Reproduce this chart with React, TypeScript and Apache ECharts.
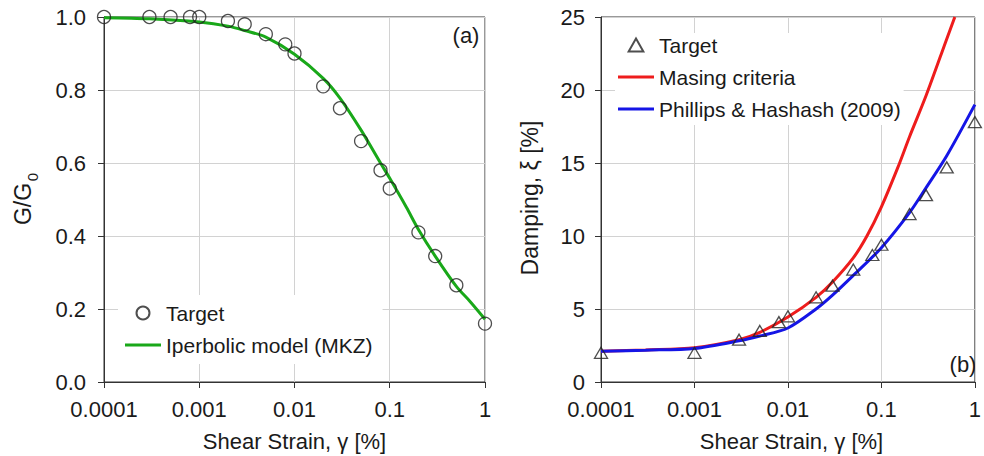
import React, { useEffect, useRef } from "react";
import * as echarts from "echarts";

// ---- Data ----
const xTickLabels = ["0.0001", "0.001", "0.01", "0.1", "1"];

// (a) modulus reduction
const ggTargetStrain = [0.0001, 0.0003, 0.0005, 0.0008, 0.001, 0.002, 0.003, 0.005, 0.008, 0.01, 0.02, 0.03, 0.05, 0.08, 0.1, 0.2, 0.3, 0.5, 1];
const ggTargetValue = [1.0, 1.0, 1.0, 1.0, 1.0, 0.989, 0.98, 0.953, 0.925, 0.9, 0.81, 0.75, 0.66, 0.58, 0.53, 0.41, 0.345, 0.265, 0.16];
const mkzStrain = [0.0001, 0.0003, 0.001, 0.002, 0.003, 0.005, 0.01, 0.02, 0.03, 0.05, 0.08, 0.1, 0.15, 0.2, 0.3, 0.5, 0.7, 1];
const mkzValue = [0.998, 0.995, 0.986, 0.975, 0.963, 0.945, 0.898, 0.832, 0.778, 0.69, 0.6, 0.558, 0.478, 0.418, 0.345, 0.262, 0.22, 0.172];

// (b) damping
const dampTargetStrain = [0.0001, 0.001, 0.003, 0.005, 0.008, 0.01, 0.02, 0.03, 0.05, 0.08, 0.1, 0.2, 0.3, 0.5, 1];
const dampTargetValue = [2.0, 2.0, 2.9, 3.5, 4.1, 4.5, 5.8, 6.6, 7.7, 8.7, 9.4, 11.5, 12.8, 14.7, 17.8];
const masingStrain = [0.0001, 0.0003, 0.001, 0.003, 0.005, 0.01, 0.02, 0.03, 0.05, 0.07, 0.1, 0.15, 0.2, 0.3, 0.5, 0.61];
const masingValue = [2.1, 2.2, 2.35, 2.9, 3.4, 4.45, 5.8, 6.85, 8.5, 10.0, 12.0, 14.7, 16.8, 19.6, 23.5, 25.0];
const phStrain = [0.0001, 0.0003, 0.001, 0.003, 0.005, 0.01, 0.02, 0.03, 0.05, 0.1, 0.2, 0.3, 0.5, 1];
const phValue = [2.1, 2.18, 2.3, 2.82, 3.15, 3.7, 5.0, 5.95, 7.3, 9.2, 11.6, 13.3, 15.5, 19.0];

const FONT = "'Liberation Sans', Arial, Helvetica, sans-serif";
const TXT = "#1a1a1a";

const LINE_ICON = "path://M0,0H36V3H0Z";
const TRI_ICON = "path://M6.5,0L13,11.5L0,11.5Z";

const pairs = (xs: number[], ys: number[]) => xs.map((x, i) => [x, ys[i]]);

export default function App() {
  const ref = useRef<HTMLDivElement>(null);

  useEffect(() => {
    if (!ref.current) return;
    const chart = echarts.init(ref.current, undefined, { renderer: "svg" });

    const xAxisFor = (gridIndex: number) => ({
      type: "log",
      logBase: 10,
      gridIndex,
      min: 0.0001,
      max: 1,
      splitNumber: 4,
      axisLine: { show: true, lineStyle: { color: "#333", width: 1 } },
      axisTick: { show: true, length: 6, inside: false, lineStyle: { color: "#333" } },
      minorTick: { show: false },
      splitLine: { show: true, lineStyle: { color: "#d2d2d2", width: 1 } },
      axisLabel: {
        fontSize: 22,
        color: TXT,
        fontFamily: FONT,
        margin: 16,
        formatter: (v: number) => {
          const i = Math.round(Math.log10(v)) + 4;
          return xTickLabels[i] ?? "";
        },
      },
    });

    const yAxisFor = (gridIndex: number, max: number, interval: number, margin: number, dec: number) => ({
      type: "value",
      gridIndex,
      min: 0,
      max,
      interval,
      axisLine: { show: true, lineStyle: { color: "#333", width: 1 } },
      axisTick: { show: true, length: 6, inside: false, lineStyle: { color: "#333" } },
      splitLine: { show: true, lineStyle: { color: "#d2d2d2", width: 1 } },
      axisLabel: {
        fontSize: 22,
        color: TXT,
        fontFamily: FONT,
        margin,
        formatter: (v: number) => v.toFixed(dec),
      },
    });

    const openMarker = {
      color: "rgba(255,255,255,0)",
      borderColor: "#222",
      borderWidth: 1.3,
    };

    const option: any = {
      animation: false,
      textStyle: { fontFamily: FONT },
      grid: [
        { left: 104, top: 17, width: 381, height: 365, show: true, borderColor: "#333", borderWidth: 1, backgroundColor: "transparent" },
        { left: 601, top: 17, width: 381, height: 365, show: true, borderColor: "#333", borderWidth: 1, backgroundColor: "transparent" },
      ],
      xAxis: [xAxisFor(0), xAxisFor(1)],
      yAxis: [yAxisFor(0, 1, 0.2, 18, 1), yAxisFor(1, 25, 5, 16, 0)],
      legend: [
        {
          orient: "vertical",
          left: 118,
          top: 295,
          padding: [7, 10, 8, 7],
          backgroundColor: "#ffffff",
          itemWidth: 36,
          itemHeight: 13,
          itemGap: 10,
          selectedMode: false,
          textStyle: { fontSize: 21, color: TXT, fontFamily: FONT, lineHeight: 22 },
          data: [
            { name: "Target", icon: "circle" },
            { name: "Iperbolic model (MKZ)", icon: LINE_ICON },
          ],
        },
        {
          orient: "vertical",
          left: 615,
          top: 33,
          padding: [1, 3, 5, 3],
          backgroundColor: "#ffffff",
          itemWidth: 36,
          itemHeight: 13,
          itemGap: 10,
          selectedMode: false,
          textStyle: { fontSize: 21, color: TXT, fontFamily: FONT, lineHeight: 22 },
          formatter: (name: string) => (name === "Target (b)" ? "Target" : name),
          data: [
            { name: "Target (b)", icon: TRI_ICON },
            { name: "Masing criteria", icon: LINE_ICON },
            { name: "Phillips & Hashash (2009)", icon: LINE_ICON },
          ],
        },
      ],
      series: [
        {
          name: "Iperbolic model (MKZ)",
          type: "line",
          xAxisIndex: 0,
          yAxisIndex: 0,
          data: pairs(mkzStrain, mkzValue),
          smooth: 0.3,
          symbol: "none",
          lineStyle: { color: "#19a819", width: 3 },
          itemStyle: { color: "#19a819" },
          z: 2,
        },
        {
          name: "Target",
          type: "scatter",
          xAxisIndex: 0,
          yAxisIndex: 0,
          data: pairs(ggTargetStrain, ggTargetValue),
          symbol: "circle",
          symbolSize: 13,
          itemStyle: openMarker,
          z: 3,
        },
        {
          name: "Masing criteria",
          type: "line",
          xAxisIndex: 1,
          yAxisIndex: 1,
          data: pairs(masingStrain, masingValue),
          smooth: 0.3,
          symbol: "none",
          lineStyle: { color: "#ee1c1c", width: 3 },
          itemStyle: { color: "#ee1c1c" },
          z: 2,
        },
        {
          name: "Phillips & Hashash (2009)",
          type: "line",
          xAxisIndex: 1,
          yAxisIndex: 1,
          data: pairs(phStrain, phValue),
          smooth: 0.3,
          symbol: "none",
          lineStyle: { color: "#1515e6", width: 3 },
          itemStyle: { color: "#1515e6" },
          z: 2,
        },
        {
          name: "Target (b)",
          type: "scatter",
          xAxisIndex: 1,
          yAxisIndex: 1,
          data: pairs(dampTargetStrain, dampTargetValue),
          symbol: "triangle",
          symbolSize: [13, 11],
          itemStyle: openMarker,
          z: 3,
        },
      ],
      graphic: [
        {
          type: "text",
          x: 23,
          y: 204,
          rotation: Math.PI / 2,
          style: { text: "G/G", fontSize: 23, fontFamily: FONT, fill: TXT, align: "center", verticalAlign: "middle" },
        },
        {
          type: "text",
          x: 32,
          y: 177,
          rotation: Math.PI / 2,
          style: { text: "0", fontSize: 15, fontFamily: FONT, fill: TXT, align: "center", verticalAlign: "middle" },
        },
        {
          type: "text",
          x: 530,
          y: 198,
          rotation: Math.PI / 2,
          style: { text: "Damping, ξ [%]", fontSize: 23, fontFamily: FONT, fill: TXT, align: "center", verticalAlign: "middle" },
        },
        {
          type: "text",
          x: 294.5,
          y: 441,
          style: { text: "Shear Strain, γ [%]", fontSize: 22, fontFamily: FONT, fill: TXT, align: "center", verticalAlign: "middle" },
        },
        {
          type: "text",
          x: 791.5,
          y: 441,
          style: { text: "Shear Strain, γ [%]", fontSize: 22, fontFamily: FONT, fill: TXT, align: "center", verticalAlign: "middle" },
        },
        {
          type: "text",
          x: 466,
          y: 35,
          style: { text: "(a)", fontSize: 22, fontFamily: FONT, fill: TXT, align: "center", verticalAlign: "middle" },
        },
        {
          type: "text",
          x: 963,
          y: 364,
          style: { text: "(b)", fontSize: 22, fontFamily: FONT, fill: TXT, align: "center", verticalAlign: "middle" },
        },
      ],
    };

    chart.setOption(option);
    return () => chart.dispose();
  }, []);

  return (
    <div
      ref={ref}
      style={{ position: "fixed", left: 0, top: 0, width: 984, height: 456, background: "#ffffff" }}
    />
  );
}
